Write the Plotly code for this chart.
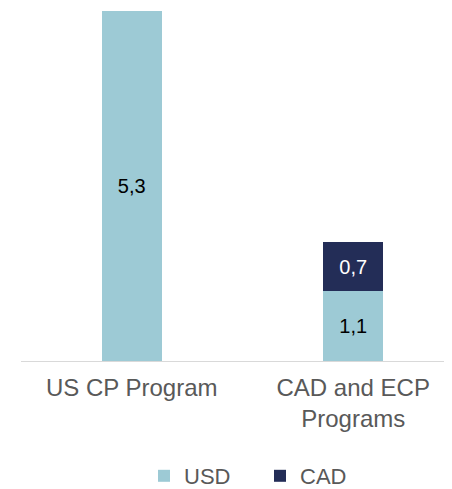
import plotly.graph_objects as go

categories = ["US CP Program", "CAD and ECP<br>Programs"]
usd_values = [5.3, 1.06]
cad_values = [None, 0.74]

usd_color = "#9DCAD5"
cad_color = "#232D57"

fig = go.Figure()
fig.add_trace(go.Bar(
    name="USD", x=categories, y=usd_values, marker_color=usd_color,
    width=0.27, texttemplate="%{y:.1f}", textposition="inside",
    insidetextanchor="middle", textfont=dict(color="#000000", size=20),
    marker_line_width=0,
))
fig.add_trace(go.Bar(
    name="CAD", x=categories, y=cad_values, marker_color=cad_color,
    width=0.27, texttemplate="%{y:.1f}", textposition="inside",
    insidetextanchor="middle", textfont=dict(color="#FFFFFF", size=20),
    marker_line_width=0,
))

fig.update_layout(
    barmode="stack",
    width=452, height=489,
    separators=", ",
    paper_bgcolor="white", plot_bgcolor="white",
    font=dict(family="Liberation Sans, Arial, sans-serif", size=24, color="#595959"),
    margin=dict(l=13, r=8, t=3, b=135.5),
    showlegend=True,
    legend=dict(orientation="h", x=0.2854, xanchor="left", yref="container",
                y=(489 - 468) / 489, yanchor="middle",
                font=dict(size=22, color="#595959"), itemclick=False,
                traceorder="normal", entrywidth=71),
    uniformtext=dict(mode="show", minsize=10),
)
fig.update_xaxes(range=[-0.5, 1.446], showline=True, linecolor="#D9D9D9", linewidth=1,
                 showgrid=False, ticks="", ticklabelstandoff=5,
                 tickfont=dict(size=24, color="#595959"))
fig.update_yaxes(range=[0, 5.3], visible=False, showgrid=False, zeroline=False)

fig.write_html("out.html")
